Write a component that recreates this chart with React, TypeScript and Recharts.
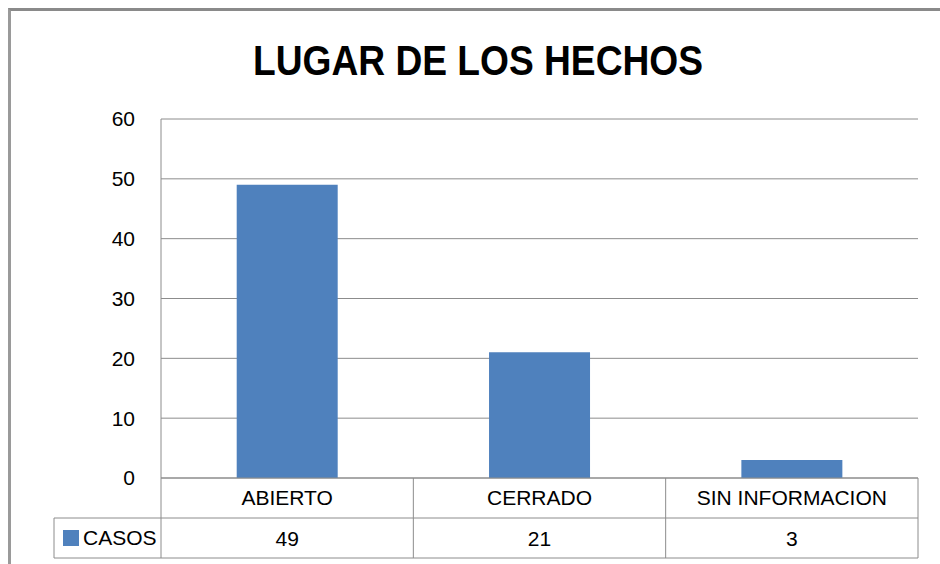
import React from 'react';
import { BarChart, Bar, XAxis, YAxis, CartesianGrid } from 'recharts';

const categories = ['ABIERTO', 'CERRADO', 'SIN INFORMACION'];
const casos = [49, 21, 3];
const yTicks = [0, 10, 20, 30, 40, 50, 60];
const seriesName = 'CASOS';

const data = categories.map((name, i) => ({ name, casos: casos[i] }));

const W = 940;
const H = 564;
const PLOT_LEFT = 161;
const PLOT_RIGHT = 918;
const PLOT_TOP = 119;
const PLOT_BOTTOM = 478;
const ROW_H = 40;
const LEGEND_LEFT = 54;

const BLUE = '#4f81bd';
const GRID = '#8c8c8c';
const FONT = "'Liberation Sans', Arial, sans-serif";

const bandWidth = (PLOT_RIGHT - PLOT_LEFT) / categories.length;

const TableTick = (props: any) => {
  const { x, y, payload, index } = props;
  const left = x - bandWidth / 2;
  const right = x + bandWidth / 2;
  return (
    <g>
      <line x1={left} y1={y} x2={left} y2={y + ROW_H * 2} stroke={GRID} />
      {index === categories.length - 1 && (
        <line x1={right} y1={y} x2={right} y2={y + ROW_H * 2} stroke={GRID} />
      )}
      {index === 0 && (
        <g>
          <line x1={LEGEND_LEFT} y1={y + ROW_H} x2={PLOT_RIGHT} y2={y + ROW_H} stroke={GRID} />
          <line x1={LEGEND_LEFT} y1={y + ROW_H * 2} x2={PLOT_RIGHT} y2={y + ROW_H * 2} stroke={GRID} />
          <line x1={LEGEND_LEFT} y1={y + ROW_H} x2={LEGEND_LEFT} y2={y + ROW_H * 2} stroke={GRID} />
          <rect x={63} y={y + ROW_H + 12} width={16} height={16} fill={BLUE} />
          <text x={83} y={y + ROW_H + 27} fontSize={21} fontFamily={FONT} fill="#000">
            {seriesName}
          </text>
        </g>
      )}
      <text x={x} y={y + 27} textAnchor="middle" fontSize={21} fontFamily={FONT} fill="#000">
        {payload.value}
      </text>
      <text x={x} y={y + ROW_H + 28} textAnchor="middle" fontSize={21} fontFamily={FONT} fill="#000">
        {casos[index]}
      </text>
    </g>
  );
};

export default function App() {
  return (
    <div style={{ position: 'absolute', left: 0, top: 0, width: W, height: H, background: '#fff' }}>
      <BarChart
        width={W}
        height={H}
        data={data}
        margin={{ top: PLOT_TOP, right: W - PLOT_RIGHT, bottom: 0, left: PLOT_LEFT - 60 }}
        barCategoryGap="30%"
      >
        <text
          x={478}
          y={75}
          textAnchor="middle"
          fontSize={42}
          fontWeight="bold"
          fontFamily={FONT}
          textLength={450}
          lengthAdjust="spacingAndGlyphs"
          fill="#000"
        >
          LUGAR DE LOS HECHOS
        </text>
        <CartesianGrid vertical={false} stroke={GRID} />
        <XAxis
          dataKey="name"
          height={H - PLOT_BOTTOM}
          tickLine={false}
          tickSize={0}
          tickMargin={0}
          axisLine={{ stroke: GRID }}
          tick={<TableTick />}
          interval={0}
        />
        <YAxis
          width={60}
          domain={[0, 60]}
          ticks={yTicks}
          tickLine={false}
          tickSize={0}
          tickMargin={26}
          axisLine={{ stroke: GRID }}
          tick={{ fontSize: 21, fontFamily: FONT, fill: '#000' }}
        />
        <Bar dataKey="casos" fill={BLUE} isAnimationActive={false} />
      </BarChart>
      <div
        style={{
          position: 'absolute',
          left: 8,
          top: 8,
          width: W,
          height: H,
          borderTop: '3px solid #8a8a8a',
          borderLeft: '3px solid #9a9a9a',
          boxSizing: 'border-box',
          pointerEvents: 'none',
        }}
      />
    </div>
  );
}
